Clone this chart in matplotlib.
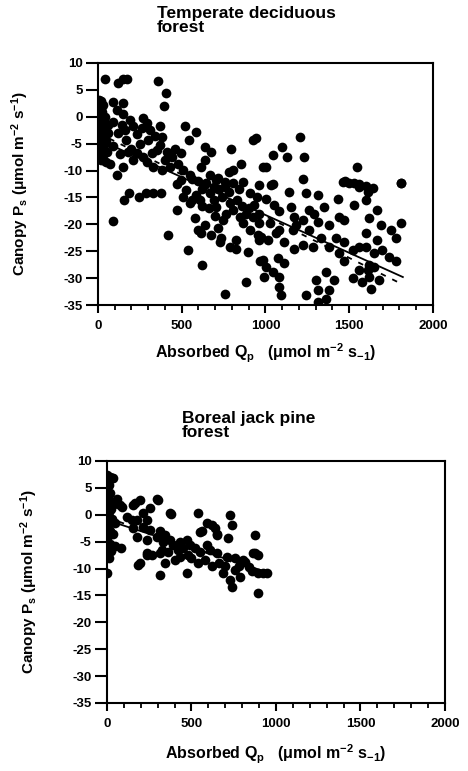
import numpy as np
import matplotlib.pyplot as plt
from matplotlib.ticker import MultipleLocator

plt.rcParams['font.family'] = ['Liberation Sans', 'DejaVu Sans']
plt.rcParams['font.weight'] = 'bold'
plt.rcParams['mathtext.default'] = 'regular'
plt.rcParams['axes.unicode_minus'] = False

# temperate deciduous forest (absorbed Qp, canopy Ps)
temp_x = [5, 10, 15, 20, 5, 12, 25, 30, 8, 18, 35, 40, 5, 15, 28, 45, 10, 22, 38, 50, 5, 30, 55, 15, 45, 60, 60, 3, 20, 0,
          42, 121, 150, 175, 359, 405, 393, 91, 151, 111, 151, 91, 141, 190, 210, 270, 290, 370, 380, 518, 587, 370, 544,
          637, 676, 796, 925, 945, 498, 637, 617, 855, 805, 785, 984, 111, 32, 71, 151, 210, 270, 320, 350, 250, 300,
          170, 200, 330, 380, 430, 478, 508, 547, 667, 716, 756,
          120, 160, 230, 260, 310, 340, 410, 440, 460, 230, 290, 400, 90, 130, 180, 560, 600, 640, 690, 720,
          1206, 1099, 1043, 1127, 1232, 1004, 1222, 1549, 1476, 1529, 1559, 1807, 1043,
          87, 155, 187, 246, 286, 329, 379, 418, 472, 472, 498, 538, 623, 756, 881, 968, 994,
          508, 548, 587, 607, 528, 577, 597, 617, 637, 676, 716, 726, 736, 786, 825, 825, 895, 905, 954, 964, 766, 746,
          806, 845, 865, 885, 925, 934, 905, 964, 786, 706, 667, 647, 706, 806, 865,
          560, 620, 660, 700, 740, 780, 830, 860, 900, 950, 620, 690, 760, 840,
          1033, 1143, 1242, 1311, 1430, 1460, 1500, 1559, 1609, 1599, 1807, 1004, 1053, 1083, 1152, 1172, 1262, 1291,
          1351, 1222, 1311, 1381, 1440, 1470, 1529, 1619, 1668, 1688, 1748, 1777, 1807, 1599, 1668, 974, 1014, 1063,
          1113, 1162, 1172, 1222, 1281, 1331, 1381, 1420, 1470, 1440, 1520, 1559, 1599, 1648, 1698, 1738, 1777, 1470,
          1559, 1619, 1619, 1678, 1520, 1579, 1073, 1113, 1043, 1083, 1083, 1093, 984, 1004, 1301, 1311, 1242, 1361,
          1410, 1381, 1361, 1311, 964, 964, 1024, 1083, 1182, 1262, 1649, 1631, 1613, 1600, 1640]
temp_y = [3.2, 2.5, 3.0, 1.5, 0.5, -0.5, 0.8, 2.2, -1.5, -2.5, -1.0, 0.0, -3.5, -4.5, -3.8, -2.8, -5.5, -6.0, -5.2,
          -4.5, -6.8, -7.2, -6.5, -8.0, -8.5, -3.0, -1.5, 1.8, -4.8, -2.0,
          7.0, 6.2, 7.0, 7.0, 6.7, 4.5, 2.0, 2.8, 2.5, 1.3, 0.6, -0.9, -1.5, -0.6, -1.8, -0.3, -1.2, -1.8, -3.7, -1.8,
          -2.8, -5.3, -4.3, -5.7, -6.5, -5.9, -4.3, -4.0, -6.8, -8.0, -9.3, -8.7, -9.9, -10.2, -9.3, -10.8, -8.0, -8.7,
          -9.3, -8.0, -7.4, -6.8, -6.2, -5.0, -4.3, -4.3, -5.9, -9.3, -9.9, -9.3, -8.7, -9.9, -10.8, -10.8, -11.4, -12.1,
          -3.0, -2.5, -3.2, -2.0, -2.5, -3.5, -6.5, -7.5, -6.0, -6.8, -8.5, -8.0, -5.5, -7.0, -6.5, -11.5, -12.0, -12.5,
          -13.0, -13.5,
          -3.8, -5.7, -7.1, -7.4, -7.5, -9.3, -11.6, -9.3, -11.9, -12.3, -12.5, -12.3, -12.5,
          -19.3, -15.5, -14.1, -15.0, -14.2, -14.1, -14.2, -22.0, -17.3, -12.5, -11.7, -24.8, -27.6, -33.0, -30.7,
          -26.9, -29.7,
          -14.9, -16.1, -14.5, -15.5, -13.6, -18.9, -21.1, -21.7, -20.1, -22.0, -20.7, -23.2, -22.6, -24.2, -24.5,
          -22.9, -25.1, -21.1, -22.0, -22.9, -18.0, -19.2, -17.3, -18.6, -19.8, -18.0, -18.6, -16.4, -14.2, -12.7,
          -16.1, -16.7, -14.2, -12.4, -11.8, -12.4, -12.1,
          -15.5, -16.5, -17.0, -18.5, -15.0, -14.0, -15.5, -16.5, -17.0, -15.0, -13.5, -15.5, -13.0, -13.5,
          -12.7, -13.9, -14.2, -14.5, -15.2, -12.1, -12.4, -13.0, -13.9, -15.5, -12.4, -15.2, -16.4, -17.6, -16.7,
          -18.6, -17.3, -18.0, -16.7, -19.2, -19.5, -20.1, -18.6, -19.2, -16.4, -18.9, -17.3, -20.1, -21.1, -22.6,
          -19.8, -21.7, -22.9, -22.3, -22.9, -21.7, -23.2, -21.1, -24.5, -23.8, -24.2, -22.6, -24.2, -22.6, -23.2,
          -25.4, -24.8, -24.2, -24.2, -25.4, -24.8, -26.0, -26.9, -26.9, -28.5, -27.6, -29.7, -30.4, -30.0, -30.7,
          -26.3, -27.2, -28.8, -29.7, -31.6, -33.1, -26.6, -27.9, -30.4, -32.2, -33.1, -28.8, -30.4, -32.2, -33.8,
          -34.4, -18.0, -19.8, -19.8, -21.1, -20.1, -21.1, -27.9, -32.1, -28.5, -12.9, -13.2]

# boreal jack pine forest
bor_x = [0, 5, 10, 0, 15, 5, 20, 0, 10, 25, 5, 15, 30, 0, 20, 8, 35, 0, 15, 5, 25, 0, 28, 17, 37, 40, 45, 10,
         57, 77, 47, 80, 166, 195, 254, 304, 195, 186, 235, 264, 313, 343, 377, 540, 550, 590, 620, 650, 728, 742,
         718, 876, 876, 896, 896, 892, 945, 925, 817, 758, 738, 728, 688, 471, 323,
         156, 298, 373, 639, 560, 649, 866, 87, 116, 146, 215, 235, 176, 156, 215, 254, 314, 343, 176, 235, 294,
         333, 373, 393, 432, 472, 491, 452, 521, 550, 590, 610, 235, 314, 363, 432, 649, 708, 758, 807,
         500, 540, 580, 620, 660, 700, 780, 840, 860, 790, 480, 400, 420]
bor_y = [7.4, 6.5, 5.5, 4.5, 4.0, 3.0, 2.5, 1.5, 0.5, 1.0, -0.5, -1.5, -0.8, -2.5, -3.0, -4.0, -3.5, -5.0, -5.5,
         -6.5, -6.8, -10.9, 6.8, 7.1, 6.8, 2.0, -1.5, -8.0,
         3.0, 1.8, -5.9, -6.2, 2.1, 2.7, 1.2, 2.7, -9.0, -9.3, -7.2, -7.5, -11.2, -9.0, 0.1, 0.3, -3.2, -1.6, -1.9,
         -3.5, -0.05, -1.9, -4.4, -3.8, -7.2, -7.5, -10.9, -14.5, -10.9, -10.9, -8.7, -10.3, -13.4, -12.1, -10.9,
         -10.9, -6.6,
         1.8, 2.9, 0.3, -2.5, -3.1, -3.8, -7.2, 1.5, -0.4, -1.0, 0.3, -1.0, -1.0, -2.5, -2.2, -2.8, -3.1, -3.8,
         -4.1, -4.7, -4.1, -5.0, -4.7, -5.6, -5.0, -4.7, -5.6, -6.2, -6.2, -6.9, -5.6, -6.6, -7.5, -7.2, -6.9, -7.8,
         -7.2, -7.8, -8.1, -8.4,
         -8.0, -9.0, -8.5, -9.5, -9.0, -9.5, -9.5, -9.8, -10.5, -11.5, -7.5, -8.5, -6.5]

# regression line end points
temp_solid_x, temp_solid_y = [0, 1820], [-4.2, -29.8]
temp_dash_x, temp_dash_y = [0, 1820], [-3.0, -31.2]
bor_solid_x, bor_solid_y = [0, 930], [-1.0, -10.5]
bor_dash_x, bor_dash_y = [0, 930], [-0.5, -10.9]

fig = plt.figure(figsize=(4.68, 7.71), dpi=100)
ax1 = fig.add_axes([0.2094, 0.6044, 0.7158, 0.3139])
ax2 = fig.add_axes([0.2286, 0.0882, 0.7222, 0.3139])

panels = [(ax1, temp_x, temp_y, temp_solid_x, temp_solid_y, temp_dash_x, temp_dash_y, -0.20, -0.15),
          (ax2, bor_x, bor_y, bor_solid_x, bor_solid_y, bor_dash_x, bor_dash_y, -0.198, -0.165)]
for ax, x, y, sx, sy, dx, dy, ylab_x, xlab_y in panels:
    ax.plot(x, y, 'o', color='black', markersize=7, markeredgewidth=0)
    ax.plot(sx, sy, '-', color='black', lw=1.3)
    ax.plot(dx, dy, '--', color='black', lw=1.3, dashes=(3, 4))
    ax.set_xlim(0, 2000)
    ax.set_ylim(-35, 10)
    ax.xaxis.set_major_locator(MultipleLocator(500))
    ax.xaxis.set_minor_locator(MultipleLocator(100))
    ax.yaxis.set_major_locator(MultipleLocator(5))
    ax.tick_params(axis='x', which='major', direction='out', length=6, width=1.5, labelsize=9.5, pad=5)
    ax.tick_params(axis='y', which='major', direction='out', length=9, width=1.5, labelsize=9.5, pad=2)
    ax.tick_params(axis='x', which='minor', direction='out', length=3.5, width=1.3)
    for s in ax.spines.values():
        s.set_linewidth(1.5)
    for lab in ax.get_xticklabels() + ax.get_yticklabels():
        lab.set_fontweight('bold')
    ax.set_xlabel(r'Absorbed Q$_{p}$   ($\mu$mol m$^{-2}$ s$_{-1}$)', fontsize=11.5, fontweight='bold')
    ax.set_ylabel(r'Canopy P$_{s}$ ($\mu$mol m$^{-2}$ s$^{-1}$)', fontsize=11, fontweight='bold')
    ax.xaxis.set_label_coords(0.5, xlab_y)
    ax.yaxis.set_label_coords(ylab_x, 0.5)

fig.text(157 / 468, 1 - 6 / 771, 'Temperate deciduous\nforest', ha='left', va='top',
         fontsize=12.5, fontweight='bold', linespacing=0.95)
fig.text(182 / 468, 1 - 411 / 771, 'Boreal jack pine\nforest', ha='left', va='top',
         fontsize=12.5, fontweight='bold', linespacing=0.95)

fig.savefig('out.png', dpi=100)
